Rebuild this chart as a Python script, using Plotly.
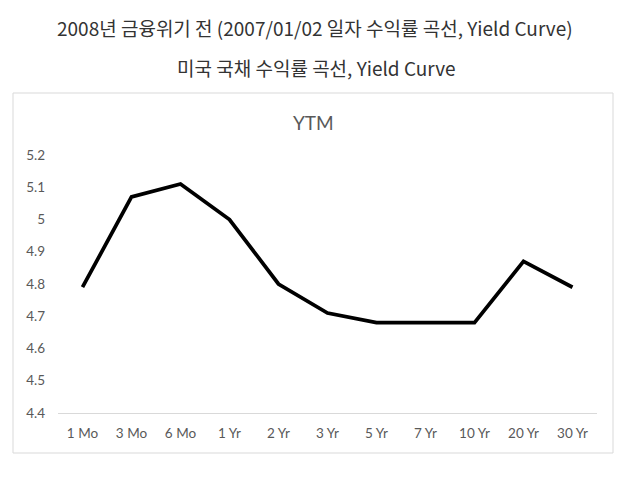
import plotly.graph_objects as go

maturities = ["1 Mo", "3 Mo", "6 Mo", "1 Yr", "2 Yr", "3 Yr", "5 Yr", "7 Yr", "10 Yr", "20 Yr", "30 Yr"]
ytm = [4.79, 5.07, 5.11, 5.00, 4.80, 4.71, 4.68, 4.68, 4.68, 4.87, 4.79]
y_ticks = [4.4, 4.5, 4.6, 4.7, 4.8, 4.9, 5.0, 5.1, 5.2]

page_title = "2008년 금융위기 전 (2007/01/02 일자 수익률 곡선, Yield Curve)"
sub_title = "미국 국채 수익률 곡선, Yield Curve"
chart_title = "YTM"

# page body has an 8px margin, so work in page pixels minus 8
OFF = 8
W, H = 643 - OFF, 489 - OFF
L, T = 58 - OFF, 155 - OFF
R = W - (597 - OFF)
B = H - (413 - OFF)
pw, ph = W - L - R, H - T - B


def px_x(x):
    return (x - OFF - L) / pw


def px_y(y):
    return (H - B - (y - OFF)) / ph


fig = go.Figure()
fig.add_trace(go.Scatter(
    x=maturities, y=ytm, mode="lines",
    line=dict(color="black", width=3.75),
    hoverinfo="x+y",
))

label_font = dict(family="Lato, Open Sans, sans-serif", size=13.5, color="#595959")
title_font = dict(family="Noto Sans CJK KR", size=19, color="#333333")

fig.update_layout(
    width=W, height=H,
    margin=dict(l=L, r=R, t=T, b=B),
    paper_bgcolor="white", plot_bgcolor="white",
    showlegend=False,
    xaxis=dict(
        range=[-0.5, len(maturities) - 0.5],
        showgrid=False, zeroline=False,
        showline=True, linecolor="#d9d9d9", linewidth=1,
        tickfont=label_font, ticklabelstandoff=8,
    ),
    yaxis=dict(
        range=[4.4, 5.2], tickvals=y_ticks,
        showgrid=False, zeroline=False, showline=False,
        tickfont=label_font, ticklabelstandoff=12,
    ),
    shapes=[dict(
        type="rect", xref="paper", yref="paper",
        x0=px_x(13), x1=px_x(613), y0=px_y(453), y1=px_y(93),
        line=dict(color="#d9d9d9", width=1), layer="below",
    )],
    annotations=[
        dict(text=page_title, xref="paper", yref="paper",
             x=px_x(315), y=px_y(27), xanchor="center", yanchor="middle",
             showarrow=False, font=title_font),
        dict(text=sub_title, xref="paper", yref="paper",
             x=px_x(316), y=px_y(67), xanchor="center", yanchor="middle",
             showarrow=False, font=title_font),
        dict(text=chart_title, xref="paper", yref="paper",
             x=px_x(313), y=px_y(122), xanchor="center", yanchor="middle",
             showarrow=False,
             font=dict(family="Lato, Open Sans, sans-serif", size=19, color="#595959")),
    ],
)

fig.write_html("out.html")
